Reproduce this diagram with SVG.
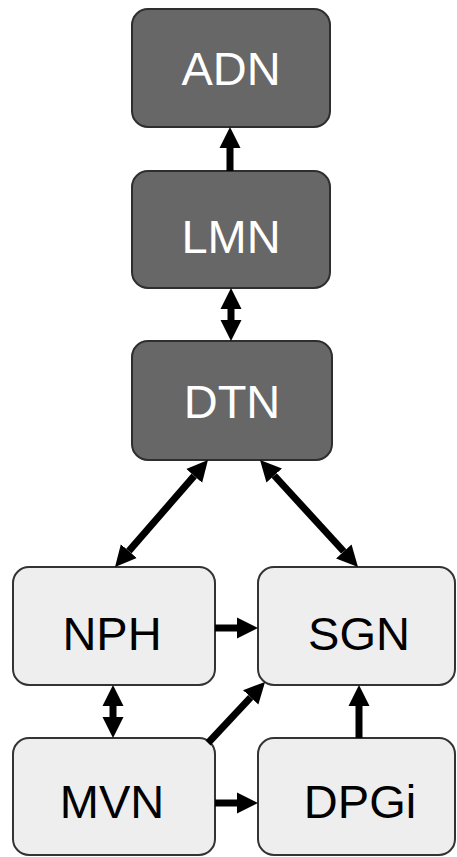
<svg xmlns="http://www.w3.org/2000/svg" width="457" height="857" viewBox="0 0 457 857">
<style>
.dark rect{fill:#676767;stroke:#2e2e2e;stroke-width:2}
.light rect{fill:#eeeeee;stroke:#333;stroke-width:2}
text{font-family:"Liberation Sans",Arial,sans-serif;font-size:47px;text-anchor:middle}
.dark text{fill:#ffffff}
.light text{fill:#000000}
.conn line{stroke:#000;stroke-width:7;fill:none}
</style>
<defs>
<marker id="ah" viewBox="0 0 10 10" refX="0" refY="5" markerUnits="userSpaceOnUse" markerWidth="21" markerHeight="26" orient="auto-start-reverse">
<path d="M0,0 L10,5 L0,10 z" fill="#000"/>
</marker>
</defs>
<rect width="457" height="857" fill="#fff"/>
<g id="ADN" class="dark"><rect x="132" y="9" width="198" height="118" rx="16"/><text x="231" y="85">ADN</text></g>
<g id="LMN" class="dark"><rect x="132" y="171" width="198" height="117" rx="16"/><text x="231" y="253">LMN</text></g>
<g id="DTN" class="dark"><rect x="132" y="341" width="200" height="119" rx="16"/><text x="232" y="418">DTN</text></g>
<g id="NPH" class="light"><rect x="13" y="567" width="202" height="118" rx="16"/><text x="112" y="650">NPH</text></g>
<g id="SGN" class="light"><rect x="258" y="567" width="197" height="118" rx="16"/><text x="359" y="650">SGN</text></g>
<g id="MVN" class="light"><rect x="13" y="738" width="202" height="117" rx="16"/><text x="112" y="818">MVN</text></g>
<g id="DPGi" class="light"><rect x="258" y="738" width="197" height="117" rx="16"/><text x="360" y="818">DPGi</text></g>
<g id="connectors" class="conn">
<line x1="230" y1="171" x2="230" y2="148" marker-end="url(#ah)"/>
<line x1="231" y1="309" x2="231" y2="320" marker-start="url(#ah)" marker-end="url(#ah)"/>
<line x1="194.2" y1="475.9" x2="128.8" y2="551.1" marker-start="url(#ah)" marker-end="url(#ah)"/>
<line x1="274.2" y1="475.5" x2="343.8" y2="551.5" marker-start="url(#ah)" marker-end="url(#ah)"/>
<line x1="215" y1="628" x2="237" y2="628" marker-end="url(#ah)"/>
<line x1="113" y1="706" x2="113" y2="717" marker-start="url(#ah)" marker-end="url(#ah)"/>
<line x1="208" y1="743" x2="250.7" y2="697.3" marker-end="url(#ah)"/>
<line x1="359" y1="738" x2="359" y2="706" marker-end="url(#ah)"/>
<line x1="215" y1="803" x2="237" y2="803" marker-end="url(#ah)"/>
</g>
</svg>
